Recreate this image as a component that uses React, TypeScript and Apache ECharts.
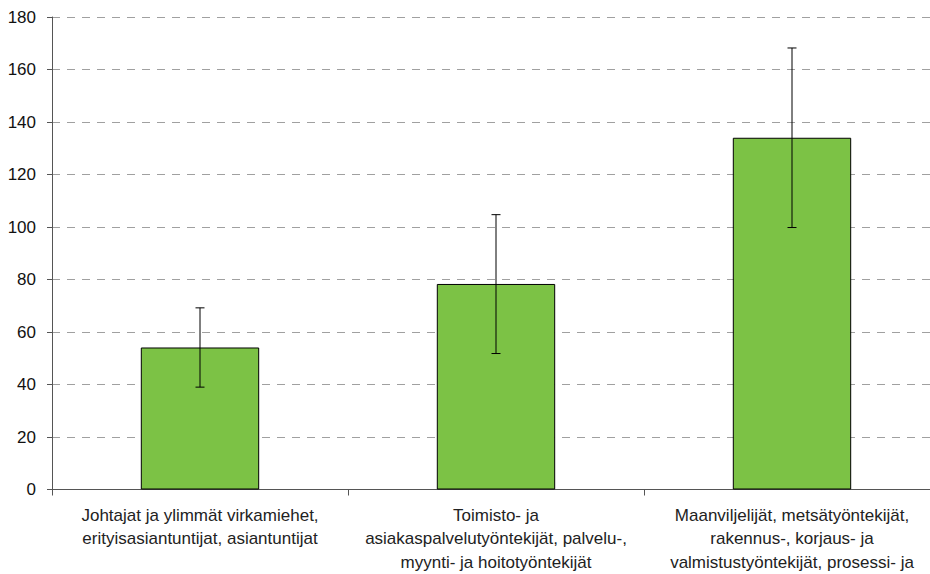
import React, { useEffect, useRef } from "react";
import * as echarts from "echarts";

const categories = [
  "Johtajat ja ylimmät virkamiehet,\nerityisasiantuntijat, asiantuntijat",
  "Toimisto- ja\nasiakaspalvelutyöntekijät, palvelu-,\nmyynti- ja hoitotyöntekijät",
  "Maanviljelijät, metsätyöntekijät,\nrakennus-, korjaus- ja\nvalmistustyöntekijät, prosessi- ja",
];
const values = [54.1, 78.3, 134.0];
const errLow = [39.0, 51.8, 99.8];
const errHigh = [69.2, 104.7, 168.2];
const yTicks = { min: 0, max: 180, interval: 20 };

export default function App() {
  const ref = useRef<HTMLDivElement>(null);
  useEffect(() => {
    if (!ref.current) return;
    const chart = echarts.init(ref.current, undefined, { renderer: "svg" });
    const errData = categories.map((_, i) => [i, errLow[i], errHigh[i]]);
    chart.setOption({
      animation: false,
      grid: { left: 52, top: 17, width: 888, height: 475, containLabel: false },
      xAxis: {
        type: "category",
        data: categories,
        axisLine: { lineStyle: { color: "#555", width: 1 } },
        axisTick: { show: true, alignWithLabel: false, length: 6, lineStyle: { color: "#555" } },
        axisLabel: {
          color: "#222",
          fontFamily: "Liberation Sans, Arial, sans-serif",
          fontSize: 17,
          lineHeight: 23.5,
          margin: 14,
          interval: 0,
        },
      },
      yAxis: {
        type: "value",
        min: yTicks.min,
        max: yTicks.max,
        interval: yTicks.interval,
        axisLine: { show: true, lineStyle: { color: "#555", width: 1 } },
        axisTick: { show: true, length: 5, lineStyle: { color: "#555" } },
        axisLabel: {
          color: "#111",
          fontFamily: "Liberation Sans, Arial, sans-serif",
          fontSize: 17,
          margin: 16,
        },
        splitLine: { show: true, lineStyle: { color: "#a0a0a0", type: [8, 7], width: 1 } },
      },
      series: [
        {
          type: "bar",
          data: values,
          barWidth: "40%",
          itemStyle: { color: "#7cc245", borderColor: "#000", borderWidth: 1 },
        },
        {
          type: "custom",
          data: errData,
          z: 10,
          renderItem: (params: any, api: any) => {
            const x = api.value(0);
            const lo = api.coord([x, api.value(1)]);
            const hi = api.coord([x, api.value(2)]);
            const cap = 4.5;
            const style = { stroke: "#000", lineWidth: 1 };
            return {
              type: "group",
              children: [
                { type: "line", shape: { x1: lo[0], y1: lo[1], x2: hi[0], y2: hi[1] }, style },
                { type: "line", shape: { x1: hi[0] - cap, y1: hi[1], x2: hi[0] + cap, y2: hi[1] }, style },
                { type: "line", shape: { x1: lo[0] - cap, y1: lo[1], x2: lo[0] + cap, y2: lo[1] }, style },
              ],
            };
          },
        },
      ],
    });
    return () => chart.dispose();
  }, []);
  return (
    <div
      style={{ position: "fixed", left: 0, top: 0, width: 930, height: 574, overflow: "hidden", background: "#fff" }}
    >
      <div ref={ref} style={{ width: 950, height: 574 }} />
    </div>
  );
}
